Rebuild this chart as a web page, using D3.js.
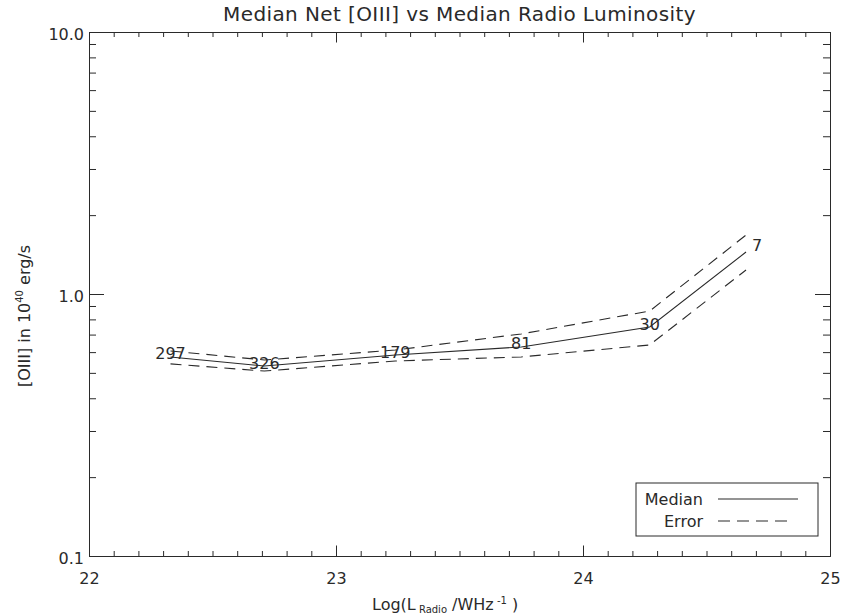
<!DOCTYPE html>
<html><head><meta charset="utf-8">
<script src="https://cdn.jsdelivr.net/npm/d3@7"></script>
<style>
body{margin:0;background:#fff}
svg text{font-family:"DejaVu Sans",Verdana,sans-serif;fill:#2a2a2a}
</style>
</head><body><svg id="c" width="843" height="615"></svg>
<script>
// ---- data ----
const logL    = [22.33, 22.71, 23.24, 23.75, 24.27, 24.66];
const median  = [0.575, 0.531, 0.585, 0.628, 0.748, 1.446];
const upper   = [0.606, 0.560, 0.611, 0.704, 0.861, 1.679];
const lower   = [0.541, 0.508, 0.555, 0.575, 0.639, 1.235];
const counts  = ["297", "326", "179", "81", "30", "7"];
const xTicks  = [22, 23, 24, 25];
const xTickLabels = ["22", "23", "24", "25"];
const yTicks  = [0.1, 1, 10];
const yTickLabels = ["0.1", "1.0", "10.0"];
const legendLabels = ["Median", "Error"];

// ---- layout ----
const L = 89, R = 830, T = 32, B = 556;
const svg = d3.select("#c");
const x = d3.scaleLinear().domain([22, 25]).range([L, R]);
const y = d3.scaleLog().domain([0.1, 10]).range([B, T]);
const ink = "#2a2a2a";
const FONT = '"DejaVu Sans",Verdana,sans-serif';

const xMinor = d3.range(0, 31).map(k => +(22 + k * 0.1).toFixed(1)).filter(v => !xTicks.includes(v));
const yMinor = [];
[0.1, 1].forEach(d => { for (let k = 2; k <= 9; k++) yMinor.push(+(d * k).toFixed(2)); });

const xMaj = 10.5, xMin = 5, yMaj = 15, yMin = 7;

function styleAxis(g) {
  g.select(".domain").attr("stroke", ink).attr("stroke-width", 1);
  g.selectAll(".tick line").attr("stroke", ink).attr("stroke-width", 1);
  g.selectAll("text").style("font-family", FONT).attr("fill", ink).style("font-size", "16px");
}

// bottom
const gb = svg.append("g").attr("transform", `translate(0,${B})`)
  .call(d3.axisBottom(x).tickValues(xTicks).tickFormat((d, i) => xTickLabels[i]).tickSize(-xMaj).tickSizeOuter(0).tickPadding(0))
  .call(styleAxis);
gb.selectAll(".tick text").attr("y", 28).attr("dy", null);
svg.append("g").attr("transform", `translate(0,${B})`)
  .call(d3.axisBottom(x).tickValues(xMinor).tickFormat("").tickSize(-xMin).tickSizeOuter(0))
  .call(styleAxis);
// top
svg.append("g").attr("transform", `translate(0,${T})`)
  .call(d3.axisTop(x).tickValues(xTicks).tickFormat("").tickSize(-xMaj).tickSizeOuter(0))
  .call(styleAxis);
svg.append("g").attr("transform", `translate(0,${T})`)
  .call(d3.axisTop(x).tickValues(xMinor).tickFormat("").tickSize(-xMin).tickSizeOuter(0))
  .call(styleAxis);
// left
const gl = svg.append("g").attr("transform", `translate(${L},0)`)
  .call(d3.axisLeft(y).tickValues(yTicks).tickFormat((d, i) => yTickLabels[i]).tickSize(-yMaj).tickSizeOuter(0).tickPadding(5))
  .call(styleAxis);
gl.selectAll(".tick text").attr("dy", null).attr("y", 7);
svg.append("g").attr("transform", `translate(${L},0)`)
  .call(d3.axisLeft(y).tickValues(yMinor).tickFormat("").tickSize(-yMin).tickSizeOuter(0))
  .call(styleAxis);
// right
svg.append("g").attr("transform", `translate(${R},0)`)
  .call(d3.axisRight(y).tickValues(yTicks).tickFormat("").tickSize(-yMaj).tickSizeOuter(0))
  .call(styleAxis);
svg.append("g").attr("transform", `translate(${R},0)`)
  .call(d3.axisRight(y).tickValues(yMinor).tickFormat("").tickSize(-yMin).tickSizeOuter(0))
  .call(styleAxis);

// ---- lines ----
const line = d3.line().x(d => x(d[0])).y(d => y(d[1]));
const medPts = logL.map((v, i) => [v, median[i]]);
const upPts = logL.map((v, i) => [v, upper[i]]);
const loPts = logL.map((v, i) => [v, lower[i]]);
svg.append("path").attr("d", line(medPts)).attr("fill", "none").attr("stroke", ink).attr("stroke-width", 1.1);
[upPts, loPts].forEach(p => svg.append("path").attr("d", line(p)).attr("fill", "none")
  .attr("stroke", ink).attr("stroke-width", 1.1).attr("stroke-dasharray", "11,7"));

// counts
const last = counts.length - 1;
svg.append("g").selectAll("text").data(counts).join("text")
  .attr("x", (d, i) => x(logL[i]) + (i === last ? 11 : 0))
  .attr("y", (d, i) => y(median[i]) + (i === last ? -1 : 2.5))
  .attr("text-anchor", "middle")
  .style("font-size", "16px")
  .text(d => d);

// ---- title ----
svg.append("text").attr("x", (L + R) / 2).attr("y", 21).attr("text-anchor", "middle")
  .style("font-size", "20px").style("letter-spacing", "0.4px")
  .text("Median Net [OIII] vs Median Radio Luminosity");

// x title
const xt = svg.append("text").attr("x", 372).attr("y", 610).attr("text-anchor", "start").style("font-size", "16px");
xt.append("tspan").text("Log(L");
xt.append("tspan").attr("dy", 3).style("font-size", "10px").text(" Radio");
xt.append("tspan").attr("dy", -3).text(" /WHz");
xt.append("tspan").attr("dy", -6).style("font-size", "10px").text(" -1");
xt.append("tspan").attr("dy", 6).text(" )");

// y title
const yt = svg.append("text").attr("transform", `translate(30,316) rotate(-90)`)
  .attr("text-anchor", "middle").style("font-size", "16px");
yt.append("tspan").text("[OIII] in 10");
yt.append("tspan").attr("dy", -7).style("font-size", "10px").text("40");
yt.append("tspan").attr("dy", 7).text(" erg/s");

// ---- legend ----
const lg = svg.append("g");
lg.append("rect").attr("x", 636).attr("y", 483).attr("width", 182).attr("height", 53)
  .attr("fill", "#fff").attr("stroke", ink).attr("stroke-width", 1);
legendLabels.forEach((t, i) => {
  const yy = 499 + i * 22;
  lg.append("text").attr("x", 703).attr("y", yy + 6).attr("text-anchor", "end").style("font-size", "16px").text(t);
  lg.append("line").attr("x1", 718).attr("x2", i === 0 ? 798 : 790).attr("y1", yy).attr("y2", yy)
    .attr("stroke", ink).attr("stroke-width", 1.1).attr("stroke-dasharray", i === 0 ? null : "12,7");
});
</script>
</body></html>
